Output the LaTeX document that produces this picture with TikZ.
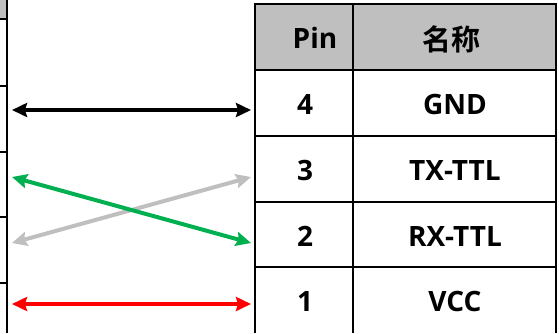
\documentclass[tikz,border=0pt]{standalone}
\usepackage{fontspec}
\setmainfont{Open Sans}[BoldFont={Open Sans Bold}]
\newfontfamily\cjk{Noto Sans CJK SC}[BoldFont={Noto Sans CJK SC Bold}]
\usetikzlibrary{arrows.meta}
\definecolor{hdrgray}{HTML}{BFBFBF}
\definecolor{arrgreen}{HTML}{00B050}
\definecolor{arrgray}{HTML}{BFBFBF}
\definecolor{arrred}{HTML}{FF0000}
\begin{document}
\begin{tikzpicture}[x=1pt,y=-1pt,
  grid/.style={line width=1.4pt,black},
  celltext/.style={font=\bfseries\fontsize{28}{32}\selectfont,inner sep=0pt,anchor=center},
  cjktext/.style={font=\cjk\bfseries\fontsize{29}{32}\selectfont,inner sep=0pt,anchor=center},
  link/.style={line width=4pt,{Stealth[length=15pt,width=14pt,inset=2pt]}-{Stealth[length=15pt,width=14pt,inset=2pt]}}
]
\useasboundingbox (0,0) rectangle (559,333);
% left partial table
\fill[hdrgray] (0,0) rectangle (7,19);
\draw[grid] (7,0) -- (7,333);
\foreach \yy in {19,86,152,217,283} \draw[grid] (0,\yy) -- (7,\yy);
% right table
\fill[hdrgray] (255,4) rectangle (556,70);
\draw[grid] (255,333) -- (255,4) -- (556,4) -- (556,333);
\draw[grid] (353,4) -- (353,333);
\foreach \yy in {70,136,202,267} \draw[grid] (255,\yy) -- (556,\yy);
% texts
\node[celltext] (hpin) at (315,38) {Pin};
\node[cjktext] (hname) at (451,39) {名称};
\node[celltext] (p4) at (305,104) {4};
\node[celltext] (n4) at (455,104) {GND};
\node[celltext] (p3) at (305,170) {3};
\node[celltext] (n3) at (455,170) {TX-TTL};
\node[celltext] (p2) at (305,236) {2};
\node[celltext] (n2) at (455,236) {RX-TTL};
\node[celltext] (p1) at (305,301) {1};
\node[celltext] (n1) at (455,301) {VCC};
% arrow endpoints
\coordinate (a4l) at (12,110);
\coordinate (a4r) at (251,110);
\coordinate (a3l) at (12,177);
\coordinate (a3r) at (251,177);
\coordinate (a2l) at (12,243);
\coordinate (a2r) at (251,243);
\coordinate (a1l) at (12,304);
\coordinate (a1r) at (251,304);
\draw[link,black] (a4l) -- (a4r);
\draw[link,arrgray] (a2l) -- (a3r);
\draw[link,arrgreen] (a3l) -- (a2r);
\draw[link,arrred] (a1l) -- (a1r);
\end{tikzpicture}
\end{document}
